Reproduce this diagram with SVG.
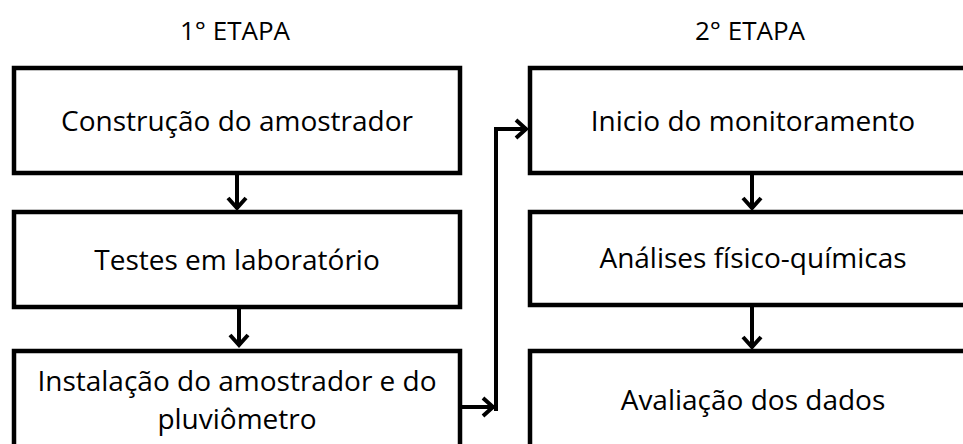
<svg xmlns="http://www.w3.org/2000/svg" width="963" height="444" viewBox="0 0 963 444">
<style>
.box{fill:#fff;stroke:#000;stroke-width:4.5}
.t{font-family:"Open Sans","Liberation Sans",sans-serif;font-size:28px;fill:#000;text-anchor:middle}
.h{font-family:"Open Sans","Liberation Sans",sans-serif;font-size:26px;fill:#000;text-anchor:middle}
.c{fill:none;stroke:#000;stroke-width:4}
</style>
<defs>
<marker id="ah" viewBox="-14 -12 18 24" markerWidth="18" markerHeight="24" refX="0" refY="0" orient="auto" markerUnits="userSpaceOnUse" overflow="visible">
<path d="M-11,-9 L-1,0 L-11,9" fill="none" stroke="#000" stroke-width="4" stroke-linejoin="miter"/>
</marker>
</defs>
<text class="h" x="235" y="40">1° ETAPA</text>
<text class="h" x="750" y="40">2° ETAPA</text>
<g id="n1"><rect class="box" x="14" y="68" width="446" height="105"/><text class="t" x="237" y="131">Construção do amostrador</text></g>
<g id="n2"><rect class="box" x="14" y="212" width="446" height="95"/><text class="t" x="237" y="270">Testes em laboratório</text></g>
<g id="n3"><rect class="box" x="14" y="351" width="446" height="110"/><text class="t" x="237" y="391">Instalação do amostrador e do</text><text class="t" x="237" y="429">pluviômetro</text></g>
<g id="n4"><rect class="box" x="530" y="68" width="450" height="105"/><text class="t" x="753" y="131">Inicio do monitoramento</text></g>
<g id="n5"><rect class="box" x="530" y="212" width="450" height="93"/><text class="t" x="753" y="268">Análises físico-químicas</text></g>
<g id="n6"><rect class="box" x="530" y="351" width="450" height="110"/><text class="t" x="753" y="410">Avaliação dos dados</text></g>
<g id="connectors">
<line class="c" x1="237" y1="175" x2="237" y2="209" marker-end="url(#ah)"/>
<line class="c" x1="239" y1="309" x2="239" y2="346" marker-end="url(#ah)"/>
<line class="c" x1="752" y1="175" x2="752" y2="209" marker-end="url(#ah)"/>
<line class="c" x1="752" y1="307" x2="752" y2="348" marker-end="url(#ah)"/>
<line class="c" x1="462" y1="407" x2="494" y2="407" marker-end="url(#ah)"/>
<path class="c" d="M496,411 V129 H527" marker-end="url(#ah)"/>
</g>
</svg>
